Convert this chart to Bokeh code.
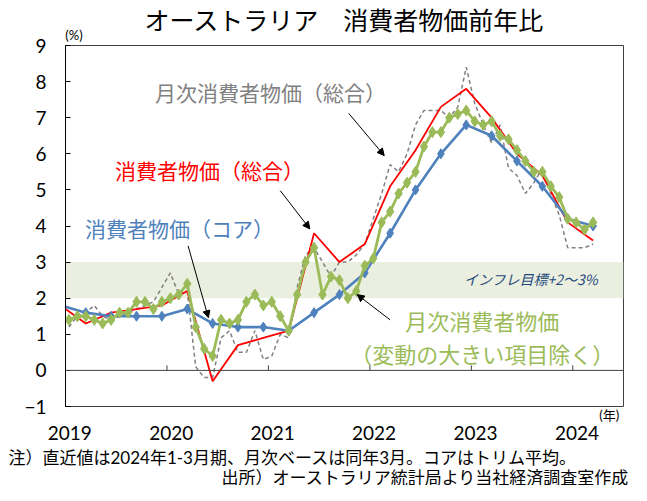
from bokeh.plotting import figure
from bokeh.models import (Range1d, FixedTicker, Span, BoxAnnotation, Label, Arrow,
                          NormalHead, LinearAxis, Title)
from bokeh.embed import file_html
from bokeh.resources import INLINE

# ---------------- data ----------------
years = [2019, 2020, 2021, 2022, 2023, 2024]
year_labels = ["2019", "2020", "2021", "2022", "2023", "2024"]

# month index: Jan 2019 = 0
q_months = [-1, 2, 5, 8, 11, 14, 17, 20, 23, 26, 29, 32, 35, 38, 41, 44, 47, 50, 53, 56, 59, 62]
cpi_total_q = [1.8, 1.3, 1.6, 1.7, 1.8, 2.2, -0.3, 0.7, 0.9, 1.1, 3.8, 3.0, 3.5, 5.1, 6.1,
               7.3, 7.8, 7.0, 6.0, 5.4, 4.1, 3.6]
cpi_core_q = [1.8, 1.6, 1.5, 1.5, 1.5, 1.7, 1.3, 1.2, 1.2, 1.1, 1.6, 2.1, 2.7, 3.8, 5.0,
              6.0, 6.8, 6.5, 5.8, 5.1, 4.2, 4.0]

m_months = list(range(63))
cpi_monthly = [1.2, 1.5, 1.6, 1.8, 1.5, 1.4, 1.5, 1.6, 1.7, 1.8, 1.9, 2.3,
               2.7, 2.1, 2.2, 0.1, -0.2, -0.2, 0.9, 1.1, 0.5, 0.5, 1.1, 0.3,
               0.4, 1.0, 0.9, 2.3, 3.2, 3.4, 3.0, 2.6, 3.0, 3.0, 3.2, 3.5,
               4.2, 4.9, 5.7, 5.5, 6.0, 6.8, 7.2, 7.2, 7.2, 7.0, 7.3, 8.4,
               7.4, 6.8, 6.3, 6.8, 5.6, 5.4, 4.9, 5.2, 5.6, 4.9, 4.3, 3.4,
               3.4, 3.4, 3.5]
cpi_monthly_ex = [1.4, 1.5, 1.5, 1.4, 1.3, 1.4, 1.6, 1.6, 1.9, 1.9, 1.7, 1.9,
                  2.0, 2.1, 2.4, 1.2, 0.6, 0.4, 1.4, 1.3, 1.4, 1.9, 2.1, 1.8,
                  1.9, 1.5, 1.1, 2.1, 3.0, 3.4, 2.1, 2.6, 2.5, 2.0, 2.2, 2.9,
                  3.1, 4.1, 4.4, 4.9, 5.2, 5.5, 6.2, 6.6, 6.6, 7.0, 7.1, 7.2,
                  6.9, 6.8, 6.9, 6.5, 6.4, 6.1, 5.8, 5.5, 5.5, 5.1, 4.8, 4.2,
                  4.1, 3.9, 4.1]

target_low, target_high = 2, 3
y_ticks = list(range(-1, 10))

title_text = "オーストラリア　消費者物価前年比"
note_text = "注）直近値は2024年1-3月期、月次ベースは同年3月。コアはトリム平均。"
source_text = "出所）オーストラリア統計局より当社経済調査室作成"

# ---------------- styling ----------------
FONT = "Noto Sans CJK JP"
MIXFONT = "Lato, Noto Sans CJK JP"
NUMFONT = "Lato"
RED = "#FF0000"
BLUE = "#4F81BD"
GREEN = "#9BBB59"
GRAY = "#808080"
OFF = 0.4  # points drawn near the middle of their month

p = figure(width=631, height=485, x_range=Range1d(0, 66), y_range=Range1d(-1, 9),
           min_border_left=65, min_border_right=8, min_border_top=45, min_border_bottom=79,
           x_axis_location=None, output_backend="svg", toolbar_location=None)
p.background_fill_color = "white"
p.border_fill_color = "white"
p.outline_line_color = "#404040"
p.outline_line_width = 1
p.xgrid.visible = False
p.ygrid.visible = False

p.yaxis.ticker = FixedTicker(ticks=y_ticks)
p.yaxis.major_tick_in = 5
p.yaxis.major_tick_out = 0
p.yaxis.minor_tick_in = 0
p.yaxis.minor_tick_out = 0
p.yaxis.axis_line_color = "black"
p.yaxis.major_tick_line_color = "black"
p.yaxis.major_label_standoff = 19
p.yaxis.major_label_text_font = NUMFONT
p.yaxis.major_label_text_font_size = "19px"
p.yaxis.major_label_text_color = "black"


def plain_axis(tick, label, size, font, standoff):
    return LinearAxis(ticker=FixedTicker(ticks=tick),
                      major_label_overrides=dict(zip(tick, label)),
                      major_tick_in=0, major_tick_out=0, minor_tick_in=0, minor_tick_out=0,
                      axis_line_color=None, major_label_standoff=standoff,
                      major_label_text_font=font, major_label_text_font_size=size,
                      major_label_text_color="black")


# above the frame: unit "(%)" as tick label, chart title as the axis label above it
top_axis = plain_axis([1.0], ["(%)"], "13px", NUMFONT, 3)
top_axis.axis_label = title_text
top_axis.axis_label_standoff = -11
top_axis.axis_label_text_font = MIXFONT
top_axis.axis_label_text_font_size = "25px"
top_axis.axis_label_text_font_style = "normal"
top_axis.axis_label_text_color = "black"
p.add_layout(top_axis, "above")

# below the frame: unit "(年)", year labels, notes
p.add_layout(plain_axis([64.3], ["(年)"], "13px", MIXFONT, 0), "below")
xt = [(y - years[0]) * 12 + 0.5 for y in years]
p.add_layout(plain_axis(xt, year_labels, "19px", NUMFONT, 0), "below")
p.add_layout(Title(text=note_text, align="left", offset=-57, standoff=5,
                   text_font=MIXFONT, text_font_size="17px", text_font_style="normal",
                   text_color="black"), "below")
p.add_layout(Title(text=source_text, align="right", offset=-6, standoff=-12,
                   text_font=MIXFONT, text_font_size="17px", text_font_style="normal",
                   text_color="black"), "below")

# target band
p.add_layout(BoxAnnotation(bottom=target_low, top=target_high, fill_color="#EBEFE0",
                           fill_alpha=1.0, line_color=None, level="underlay"))

# zero line with year ticks
p.add_layout(Span(location=0, dimension="width", line_color="#404040", line_width=1))
yt = [(y - years[0]) * 12 for y in years[1:]]
p.segment(x0=yt, y0=[0] * len(yt), x1=yt, y1=[0.14] * len(yt), line_color="#404040",
          line_width=1)

# series
xm = [m + OFF for m in m_months]
xq = [m + OFF for m in q_months]
p.line(xm, cpi_monthly, line_color=GRAY, line_width=1.5, line_dash="4 3")
p.line(xq, cpi_total_q, line_color=RED, line_width=1.8)
p.line(xq, cpi_core_q, line_color=BLUE, line_width=2.6)
p.scatter(xq, cpi_core_q, marker="diamond", size=10, fill_color=BLUE, line_color=BLUE)
p.line(xm, cpi_monthly_ex, line_color=GREEN, line_width=2.8)
p.scatter(xm, cpi_monthly_ex, marker="diamond", size=11, fill_color=GREEN, line_color=GREEN)


def lab(x, y, text, color="black", size=21, align="left", style="normal"):
    p.add_layout(Label(x=x, y=y, text=text, text_color=color, text_font=FONT,
                       text_font_size=f"{size}px", text_align=align, text_baseline="middle",
                       text_font_style=style))


def arrow(x0, y0, x1, y1):
    p.add_layout(Arrow(end=NormalHead(size=7, fill_color="black", line_color="black"),
                       x_start=x0, y_start=y0, x_end=x1, y_end=y1,
                       line_color="black", line_width=1))


lab(10.6, 7.72, "月次消費者物価（総合）", color=GRAY)
arrow(33.5, 7.12, 37.7, 5.95)
lab(5.86, 5.56, "消費者物価（総合）", color=RED)
arrow(25.4, 4.98, 28.9, 3.92)
lab(2.31, 3.95, "消費者物価（コア）", color=BLUE)
arrow(14.5, 3.45, 16.9, 1.46)
lab(49.3, 1.39, "月次消費者物価", color=GREEN, size=22, align="center")
lab(49.3, 0.49, "（変動の大きい項目除く）", color=GREEN, size=22, align="center")
arrow(38.4, 1.40, 34.5, 2.10)
lab(63.0, 2.52, "インフレ目標+2～3%", color="#1F497D", size=14, align="right",
    style="italic")

open("out.html", "w").write(file_html(p, INLINE))
